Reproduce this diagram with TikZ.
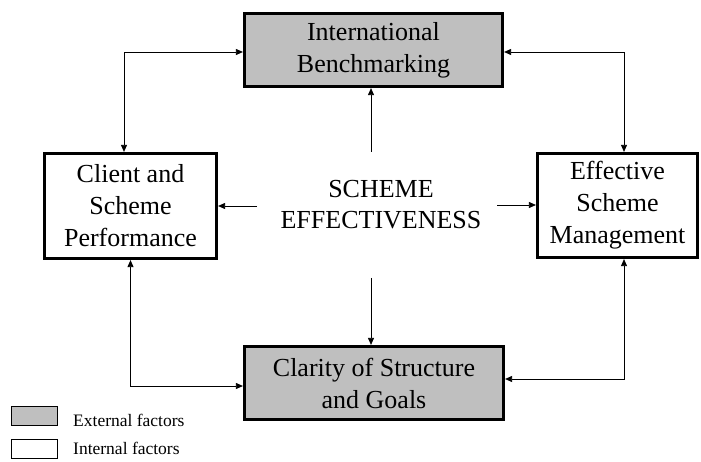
\documentclass[tikz,border=0pt]{standalone}
\usepackage{fontspec}
\setmainfont{Liberation Serif}
\usetikzlibrary{arrows.meta}

\begin{document}
\begin{tikzpicture}[x=1pt,y=-1pt,
  factor/.style={draw,line width=3.2pt,align=center,inner sep=0pt,
    font=\fontsize{26}{32}\selectfont},
  outer/.style={factor,fill=gray!50},
  link/.style={line width=0.8pt,-{Triangle[length=7pt,width=6pt]}},
  twolink/.style={line width=0.8pt,{Triangle[length=7pt,width=6pt]}-{Triangle[length=7pt,width=6pt]}},
  keybox/.style={draw,line width=0.6pt}]
\useasboundingbox (0,0) rectangle (701,462);
\node[outer,minimum width=258pt,minimum height=73pt] (bench) at (373.5,50) {International\\Benchmarking};
\node[factor,minimum width=172pt,minimum height=105pt] (client) at (130.5,206) {Client and\\Scheme\\Performance};
\node[factor,minimum width=160pt,minimum height=104pt] (manage) at (617.5,205.5) {Effective\\Scheme\\Management};
\node[outer,minimum width=259pt,minimum height=73pt] (clarity) at (374,383) {Clarity of Structure\\and Goals};
\node[align=center,font=\fontsize{26}{31}\selectfont] (scheme) at (381,205) {SCHEME\\EFFECTIVENESS};
\coordinate (sN) at (371,152);
\coordinate (sS) at (371,278);
\coordinate (sW) at (257,206);
\coordinate (sE) at (497,205);
\draw[link] (sN) -- (sN |- bench.south);
\draw[link] (sS) -- (sS |- clarity.north);
\draw[link] (sW) -- (sW -| client.east);
\draw[link] (sE) -- (sE -| manage.west);
\draw[twolink] ([yshift=-2pt]bench.west) -| ([xshift=-6.5pt]client.north);
\draw[twolink] ([yshift=-2pt]bench.east) -| ([xshift=6.5pt]manage.north);
\draw[twolink] (client.south) |- ([yshift=-3pt]clarity.west);
\draw[twolink] ([xshift=6.5pt]manage.south) |- ([yshift=4pt]clarity.east);
\draw[keybox,fill=gray!50] (11,406) rectangle (57,425);
\draw[keybox] (11,439) rectangle (57,458);
\node[anchor=base west,inner sep=0pt,font=\fontsize{17.5}{21}\selectfont] (extkey) at (73,426.5) {External factors};
\node[anchor=base west,inner sep=0pt,font=\fontsize{17.5}{21}\selectfont] (intkey) at (73,454) {Internal factors};
\end{tikzpicture}
\end{document}
